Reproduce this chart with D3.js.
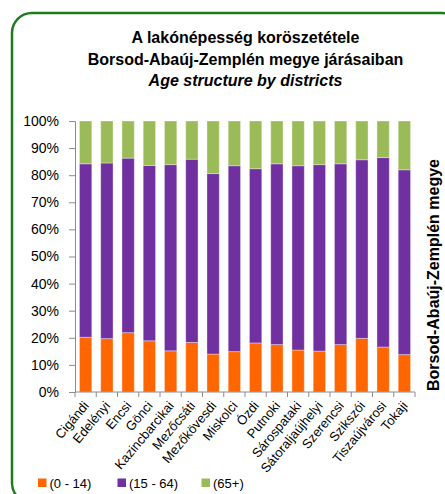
<!DOCTYPE html>
<html>
<head>
<meta charset="utf-8">
<script src="https://cdn.jsdelivr.net/npm/d3@7"></script>
<style>
  html, body { margin: 0; padding: 0; background: #fff; }
  svg { display: block; font-family: Arial, "Liberation Sans", sans-serif; }
</style>
</head>
<body>
<svg id="chart" width="445" height="494"></svg>
<script>
// Districts of Borsod-Abaúj-Zemplén county
const districts = ["Cigándi", "Edelényi", "Encsi", "Gönci", "Kazincbarcikai", "Mezőcsáti",
  "Mezőkövesdi", "Miskolci", "Ózdi", "Putnoki", "Sárospataki", "Sátoraljaújhelyi",
  "Szerencsi", "Szikszói", "Tiszaújvárosi", "Tokaji"];

// Share of population by age group (%)
const age0to14 = [20.2, 19.7, 21.9, 18.9, 15.2, 18.3, 14.0, 14.9, 18.1, 17.5, 15.5, 15.1, 17.5, 19.8, 16.6, 13.8];
const age15to64 = [64.0, 64.8, 64.4, 64.7, 68.7, 67.6, 66.6, 68.6, 64.3, 66.7, 68.0, 68.8, 66.7, 65.9, 69.9, 68.2];
const age65plus = [15.8, 15.5, 13.7, 16.4, 16.1, 14.1, 19.4, 16.5, 17.6, 15.8, 16.5, 16.1, 15.8, 14.3, 13.5, 18.0];

const seriesNames = ["(0 - 14)", "(15 - 64)", "(65+)"];
const seriesColors = ["#FF6600", "#7030A0", "#9BBB59"];
const yTicks = [0, 10, 20, 30, 40, 50, 60, 70, 80, 90, 100];

const rows = districts.map((d, i) => ({
  district: d,
  "(0 - 14)": age0to14[i],
  "(15 - 64)": age15to64[i],
  "(65+)": age65plus[i]
}));

const svg = d3.select("#chart");

// Rounded green frame
svg.append("rect")
  .attr("x", 12).attr("y", 13)
  .attr("width", 450).attr("height", 490)
  .attr("rx", 20).attr("ry", 20)
  .attr("fill", "#fff")
  .attr("stroke", "#1E7B1E")
  .attr("stroke-width", 2.5);

const plot = { left: 75, right: 415, top: 121, bottom: 392 };

const x = d3.scaleBand()
  .domain(districts)
  .range([plot.left, plot.right])
  .paddingInner(0.42)
  .paddingOuter(0.21);

const y = d3.scaleLinear()
  .domain([0, 100])
  .range([plot.bottom, plot.top]);

const stack = d3.stack().keys(seriesNames).offset(d3.stackOffsetExpand);
const layers = stack(rows);

// Stacked bars
const g = svg.append("g");
layers.forEach((layer, li) => {
  g.append("g")
    .attr("fill", seriesColors[li])
    .selectAll("rect")
    .data(layer)
    .join("rect")
    .attr("x", d => x(d.data.district))
    .attr("width", x.bandwidth())
    .attr("y", d => y(d[1] * 100))
    .attr("height", d => y(d[0] * 100) - y(d[1] * 100))
    .attr("stroke", "rgba(255,255,255,0.35)")
    .attr("stroke-width", 1);
});

// Y axis
const yAxis = d3.axisLeft(y)
  .tickValues(yTicks)
  .tickFormat(d => d + "%")
  .tickSize(6)
  .tickPadding(10);
const yg = svg.append("g")
  .attr("transform", `translate(${plot.left},0)`)
  .call(yAxis);
yg.select(".domain").attr("stroke", "#8c8c8c");
yg.selectAll(".tick line").attr("stroke", "#8c8c8c");
yg.selectAll(".tick text")
  .attr("fill", "#000")
  .style("font-size", "14px")
  .style("font-family", "Arial, 'Liberation Sans', sans-serif");

// X axis: line with tick marks between categories
const xg = svg.append("g");
xg.append("line")
  .attr("x1", plot.left).attr("x2", plot.right)
  .attr("y1", plot.bottom).attr("y2", plot.bottom)
  .attr("stroke", "#8c8c8c");
const boundaries = d3.range(districts.length + 1).map(i =>
  i === 0 ? plot.left : (i === districts.length ? plot.right : x(districts[i]) - x.step() * x.paddingInner() / 2));
xg.selectAll(".xt")
  .data(boundaries)
  .join("line")
  .attr("x1", d => d).attr("x2", d => d)
  .attr("y1", plot.bottom).attr("y2", plot.bottom + 5)
  .attr("stroke", "#8c8c8c");

xg.selectAll(".xl")
  .data(districts)
  .join("text")
  .attr("transform", d => `translate(${x(d) + x.bandwidth() / 2 + 4},${plot.bottom + 14}) rotate(-50)`)
  .attr("text-anchor", "end")
  .style("font-size", "13px")
  .attr("fill", "#000")
  .text(d => d);

// Title
const title = svg.append("g")
  .attr("text-anchor", "middle")
  .attr("fill", "#000")
  .style("font-size", "16px")
  .style("font-weight", "bold");
title.append("text").attr("x", 245.5).attr("y", 43).text("A lakónépesség koröszetétele");
title.append("text").attr("x", 245.5).attr("y", 64.5).text("Borsod-Abaúj-Zemplén megye járásaiban");
title.append("text").attr("x", 245.5).attr("y", 86).style("font-style", "italic").text("Age structure by districts");

// Vertical county label on the right
svg.append("text")
  .attr("transform", "translate(439,275) rotate(-90)")
  .attr("text-anchor", "middle")
  .style("font-size", "16px")
  .style("font-weight", "bold")
  .attr("fill", "#000")
  .text("Borsod-Abaúj-Zemplén megye");

// Legend
const legendX = [38, 117.5, 201.5];
const legend = svg.append("g");
seriesNames.forEach((name, i) => {
  legend.append("rect")
    .attr("x", legendX[i]).attr("y", 478.5)
    .attr("width", 8.5).attr("height", 8.5)
    .attr("fill", seriesColors[i]);
  legend.append("text")
    .attr("x", legendX[i] + 11.5).attr("y", 488)
    .style("font-size", "13px")
    .attr("fill", "#000")
    .text(name);
});
</script>
</body>
</html>
